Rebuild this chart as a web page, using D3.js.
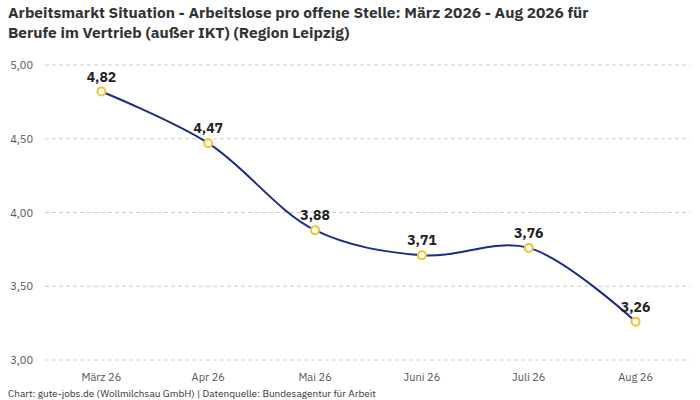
<!DOCTYPE html>
<html><head><meta charset="utf-8">
<script src="https://cdn.jsdelivr.net/npm/d3@7"></script>
<style>body{margin:0;background:#fff;font-family:"IBM Plex Sans","Noto Sans",sans-serif}</style>
</head><body>
<svg id="chart" width="700" height="400"></svg>
<script>
var months = ["März 26", "Apr 26", "Mai 26", "Juni 26", "Juli 26", "Aug 26"];
var values = [4.82, 4.47, 3.88, 3.71, 3.76, 3.26];
var yTicks = [3.0, 3.5, 4.0, 4.5, 5.0];

var svg = d3.select("#chart");
var fmt = function(v){ return d3.format(".2f")(v).replace(".", ","); };

var x = d3.scalePoint().domain(months).range([48, 689]).padding(0.5);
var y = d3.scaleLinear().domain([3, 5]).range([360, 65]);

// title
svg.append("text").attr("x", 8).attr("y", 18).attr("font-size", 15.5).attr("font-weight", "bold").attr("fill", "#333")
    .text("Arbeitsmarkt Situation - Arbeitslose pro offene Stelle: März 2026 - Aug 2026 für");
svg.append("text").attr("x", 8).attr("y", 38).attr("font-size", 15.5).attr("font-weight", "bold").attr("fill", "#333")
    .text("Berufe im Vertrieb (außer IKT) (Region Leipzig)");

// grid + y labels
svg.selectAll(".grid").data(yTicks).enter().append("line")
    .attr("x1", 45).attr("x2", 690).attr("y1", d => y(d)).attr("y2", d => y(d))
    .attr("stroke", "#ccc").attr("stroke-dasharray", "4,3");
svg.selectAll(".ylab").data(yTicks).enter().append("text")
    .attr("x", 33).attr("y", d => y(d) + 4).attr("text-anchor", "end")
    .attr("font-size", 11).attr("fill", "#555").text(fmt);

// x labels
svg.selectAll(".xlab").data(months).enter().append("text")
    .attr("x", d => x(d)).attr("y", 381).attr("text-anchor", "middle")
    .attr("font-size", 11).attr("fill", "#555").text(d => d);

var line = d3.line().x((d, i) => x(months[i])).y(d => y(d)).curve(d3.curveCatmullRom);
svg.append("path").datum(values).attr("d", line).attr("fill", "none")
    .attr("stroke", "#1c2a8a").attr("stroke-width", 2);

svg.selectAll(".pt").data(values).enter().append("circle")
    .attr("cx", (d, i) => x(months[i])).attr("cy", d => y(d)).attr("r", 4)
    .attr("fill", "#fff").attr("stroke", "#f2c12e").attr("stroke-width", 2);

svg.selectAll(".vlab").data(values).enter().append("text")
    .attr("x", (d, i) => x(months[i])).attr("y", d => y(d) - 10).attr("text-anchor", "middle")
    .attr("font-size", 14).attr("font-weight", "bold").attr("fill", "#222").text(fmt);

svg.append("text").attr("x", 8).attr("y", 397).attr("font-size", 10).attr("fill", "#333")
    .text("Chart: gute-jobs.de (Wollmilchsau GmbH) | Datenquelle: Bundesagentur für Arbeit");
</script>
</body></html>
